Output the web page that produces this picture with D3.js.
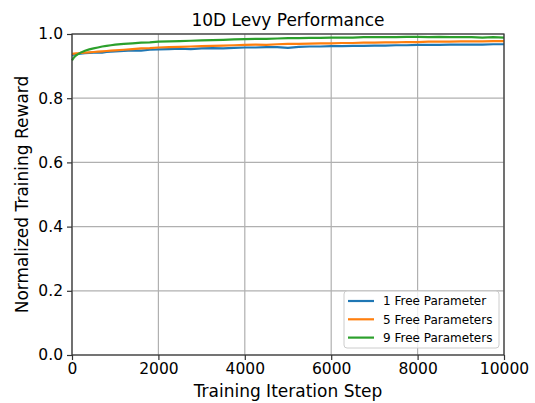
<!DOCTYPE html>
<html>
<head>
<meta charset="utf-8">
<script src="https://cdn.jsdelivr.net/npm/d3@7"></script>
<style>
  body { margin: 0; background: #fff; }
  svg { font-family: "DejaVu Sans", sans-serif; }
</style>
</head>
<body>
<div id="chart"></div>
<script>
const steps = [0, 50, 100, 150, 200, 300, 400, 500, 600, 700, 800, 900, 1000,
  1200, 1400, 1600, 1800, 2000, 2250, 2500, 2750, 3000, 3250, 3500, 3750, 4000,
  4250, 4500, 4750, 5000, 5250, 5500, 5750, 6000, 6250, 6500, 6750, 7000, 7250,
  7500, 7750, 8000, 8250, 8500, 8750, 9000, 9250, 9500, 9750, 10000];

const oneFree = [0.934, 0.936, 0.937, 0.938, 0.939, 0.940, 0.941, 0.942, 0.943, 0.942, 0.944, 0.945, 0.946,
  0.947, 0.949, 0.948, 0.951, 0.952, 0.953, 0.954, 0.953, 0.955, 0.956, 0.955, 0.957, 0.958,
  0.958, 0.959, 0.959, 0.957, 0.960, 0.961, 0.961, 0.962, 0.962, 0.963, 0.963, 0.964, 0.964,
  0.965, 0.965, 0.966, 0.966, 0.966, 0.967, 0.967, 0.967, 0.967, 0.968, 0.968];

const fiveFree = [0.938, 0.939, 0.940, 0.940, 0.941, 0.942, 0.943, 0.944, 0.945, 0.946, 0.947, 0.948, 0.949,
  0.951, 0.953, 0.955, 0.956, 0.958, 0.959, 0.960, 0.961, 0.962, 0.963, 0.964, 0.965, 0.966,
  0.967, 0.966, 0.968, 0.969, 0.969, 0.970, 0.971, 0.971, 0.972, 0.972, 0.973, 0.973, 0.974,
  0.974, 0.975, 0.975, 0.976, 0.976, 0.976, 0.977, 0.977, 0.977, 0.978, 0.978];

const nineFree = [0.918, 0.928, 0.934, 0.938, 0.942, 0.948, 0.952, 0.955, 0.958, 0.961, 0.963, 0.965, 0.967,
  0.969, 0.971, 0.973, 0.974, 0.976, 0.977, 0.978, 0.979, 0.980, 0.981, 0.982, 0.983, 0.984,
  0.985, 0.985, 0.986, 0.987, 0.987, 0.988, 0.988, 0.989, 0.989, 0.989, 0.990, 0.990, 0.990,
  0.990, 0.991, 0.991, 0.990, 0.991, 0.990, 0.990, 0.990, 0.989, 0.990, 0.989];

const seriesNames = ["1 Free Parameter", "5 Free Parameters", "9 Free Parameters"];
const seriesColors = ["#1f77b4", "#ff7f0e", "#2ca02c"];
const xTicks = [0, 2000, 4000, 6000, 8000, 10000];
const yTicks = [0.0, 0.2, 0.4, 0.6, 0.8, 1.0];

const series = [oneFree, fiveFree, nineFree].map((vals, i) => ({
  name: seriesNames[i],
  color: seriesColors[i],
  values: vals.map((v, j) => ({ step: steps[j], value: v }))
}));

const width = 535, height = 403, margin = { top: 34, right: 31, bottom: 48, left: 72 };

const svg = d3.select("#chart")
  .append("svg")
  .attr("width", width)
  .attr("height", height);

const x = d3.scaleLinear()
  .domain([0, 10000])
  .range([margin.left, width - margin.right]);

const y = d3.scaleLinear()
  .domain([0, 1])
  .range([height - margin.bottom, margin.top]);

// grid
svg.append("g")
  .selectAll("line")
  .data(xTicks)
  .enter()
  .append("line")
  .attr("x1", d => x(d)).attr("x2", d => x(d))
  .attr("y1", margin.top).attr("y2", height - margin.bottom)
  .attr("stroke", "#b0b0b0").attr("stroke-width", 1.2);

svg.append("g")
  .selectAll("line")
  .data(yTicks)
  .enter()
  .append("line")
  .attr("x1", margin.left).attr("x2", width - margin.right)
  .attr("y1", d => y(d)).attr("y2", d => y(d))
  .attr("stroke", "#b0b0b0").attr("stroke-width", 1.2);

// lines
const line = d3.line()
  .x(d => x(d.step))
  .y(d => y(d.value));

svg.append("g")
  .selectAll("path")
  .data(series)
  .enter()
  .append("path")
  .attr("d", d => line(d.values))
  .attr("fill", "none")
  .attr("stroke", d => d.color)
  .attr("stroke-width", 2.2);

// frame
svg.append("rect")
  .attr("x", margin.left).attr("y", margin.top)
  .attr("width", width - margin.left - margin.right)
  .attr("height", height - margin.top - margin.bottom)
  .attr("fill", "none")
  .attr("stroke", "#333")
  .attr("stroke-width", 1.2);

// axes
const xAxis = svg.append("g")
  .attr("transform", `translate(0, ${height - margin.bottom})`)
  .call(d3.axisBottom(x).tickValues(xTicks).tickSize(5).tickPadding(3).tickFormat(d3.format("d")));

const yAxis = svg.append("g")
  .attr("transform", `translate(${margin.left}, 0)`)
  .call(d3.axisLeft(y).tickValues(yTicks).tickSize(5).tickPadding(4).tickFormat(d3.format(".1f")));

[xAxis, yAxis].forEach(a => {
  a.select(".domain").remove();
  a.selectAll(".tick line").attr("stroke", "#333").attr("stroke-width", 1.2);
  a.selectAll(".tick text")
    .attr("fill", "#000")
    .style("font-size", "15.5px")
    .style("font-family", "DejaVu Sans");
});

// labels
svg.append("text")
  .attr("x", (margin.left + width - margin.right) / 2)
  .attr("y", 26)
  .attr("text-anchor", "middle")
  .style("font-size", "17px")
  .text("10D Levy Performance");

svg.append("text")
  .attr("x", (margin.left + width - margin.right) / 2)
  .attr("y", 396.5)
  .attr("text-anchor", "middle")
  .style("font-size", "17px")
  .text("Training Iteration Step");

svg.append("text")
  .attr("transform", `translate(28, ${(margin.top + height - margin.bottom) / 2}) rotate(-90)`)
  .attr("text-anchor", "middle")
  .style("font-size", "17px")
  .text("Normalized Training Reward");

// legend
const legend = svg.append("g");
legend.append("rect")
  .attr("x", 344).attr("y", 291)
  .attr("width", 155).attr("height", 57)
  .attr("rx", 3)
  .attr("fill", "#fff")
  .attr("fill-opacity", 0.8)
  .attr("stroke", "#ccc");

const items = legend.selectAll("g")
  .data(series)
  .enter()
  .append("g")
  .attr("transform", (d, i) => `translate(348, ${301 + i * 18.3})`);

items.append("line")
  .attr("x1", 0).attr("x2", 26)
  .attr("stroke", d => d.color)
  .attr("stroke-width", 2.2);

items.append("text")
  .attr("x", 35)
  .attr("dy", "0.35em")
  .style("font-size", "12px")
  .text(d => d.name);
</script>
</body>
</html>
